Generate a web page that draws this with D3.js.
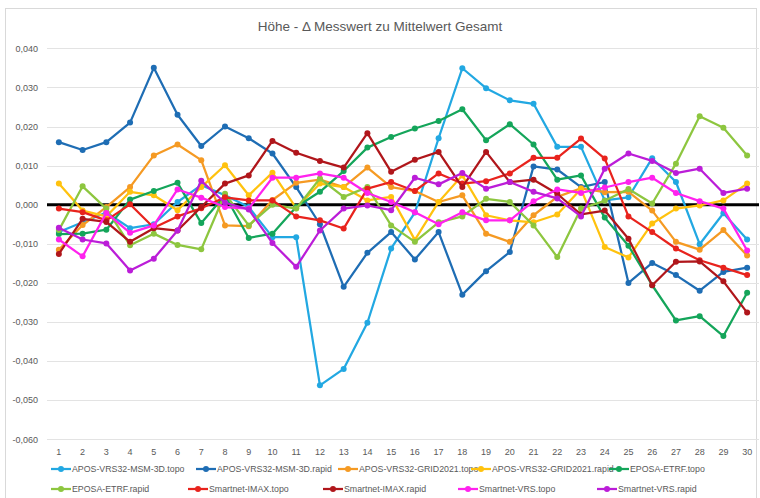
<!DOCTYPE html>
<html>
<head>
<meta charset="utf-8">
<script src="https://cdn.jsdelivr.net/npm/d3@7"></script>
<style>
  body { margin: 0; background: #fff; }
  text { font-family: "Liberation Sans", Arial, sans-serif; fill: #595959; }
</style>
</head>
<body>
<svg id="chart" width="760" height="498"></svg>
<script>
var categories = d3.range(1, 31);
var yTicks = [0.04, 0.03, 0.02, 0.01, 0, -0.01, -0.02, -0.03, -0.04, -0.05, -0.06];

var seriesNames = [
    "APOS-VRS32-MSM-3D.topo", "APOS-VRS32-MSM-3D.rapid", "APOS-VRS32-GRID2021.topo",
    "APOS-VRS32-GRID2021.rapid", "EPOSA-ETRF.topo", "EPOSA-ETRF.rapid",
    "Smartnet-IMAX.topo", "Smartnet-IMAX.rapid", "Smartnet-VRS.topo", "Smartnet-VRS.rapid"
];
var seriesColors = ["#22a8e2", "#1e6db4", "#f59a23", "#ffc20e", "#14a55a",
                    "#8dc63f", "#e8231d", "#b0161b", "#ff22ee", "#bb1dd8"];

var msmTopo = [-0.007, -0.0045, -0.002, -0.006, -0.005, 0.0007, 0.005, 0.0024, -0.0006, -0.0083,
               -0.0083, -0.0462, -0.042, -0.0302, -0.0112, -0.002, 0.017, 0.0349, 0.0298, 0.0267,
               0.0258, 0.0148, 0.0148, 0.0011, 0.0019, 0.0119, 0.0058, -0.0101, -0.0022, -0.0089];
var msmRapid = [0.016, 0.014, 0.016, 0.021, 0.035, 0.023, 0.015, 0.020, 0.017, 0.0131,
                0.0045, -0.005, -0.021, -0.0123, -0.007, -0.014, -0.007, -0.023, -0.017, -0.0121,
                0.0098, 0.009, 0.0045, 0.0058, -0.020, -0.0149, -0.018, -0.022, -0.0172, -0.0161];
var gridTopo = [-0.0115, -0.0052, -0.0006, 0.0045, 0.0126, 0.0154, 0.0114, -0.0053, -0.0055, 0.0012,
                0.0056, 0.0064, 0.0045, 0.0095, 0.0045, 0.0035, 0.0007, 0.0024, -0.0074, -0.0095,
                -0.0027, 0.002, 0.0042, 0.0032, 0.0033, -0.0015, -0.0095, -0.0115, -0.0065, -0.013];
var gridRapid = [0.0054, -0.0015, -0.003, 0.0033, 0.0024, -0.0014, 0.0045, 0.0101, 0.0024, 0.0082,
                 -0.0009, 0.0054, 0.0045, 0.0011, 0.002, -0.009, 0.0007, 0.0075, -0.0027, -0.004,
                 -0.0045, -0.0025, 0.004, -0.0108, -0.0135, -0.0048, -0.001, -0.0002, 0.0011, 0.0054];
var eposaTopo = [-0.0075, -0.0074, -0.0064, 0.0013, 0.0035, 0.0056, -0.0047, 0.0024, -0.0085, -0.0074,
                 -0.0006, 0.0033, 0.0086, 0.0146, 0.0173, 0.0195, 0.0214, 0.0244, 0.0165, 0.0206,
                 0.0154, 0.0064, 0.0075, -0.0033, -0.0105, -0.0206, -0.0296, -0.0285, -0.0336, -0.0225];
var eposaRapid = [-0.0065, 0.0047, -0.001, -0.0104, -0.0074, -0.0103, -0.0114, 0.0028, -0.0053, 0.0,
                  -0.001, 0.0067, 0.002, 0.0045, -0.0053, -0.0095, -0.0045, -0.003, 0.0015, 0.0007,
                  -0.0053, -0.0134, -0.001, 0.001, 0.004, 0.0003, 0.0105, 0.0226, 0.0197, 0.0126];
var imaxTopo = [-0.001, -0.0019, -0.004, 0.0001, -0.0059, -0.003, -0.0009, 0.0019, 0.0011, 0.0011,
                -0.003, -0.004, -0.0061, 0.0041, 0.0058, 0.0035, 0.008, 0.0054, 0.006, 0.008,
                0.012, 0.012, 0.0169, 0.0118, -0.003, -0.007, -0.0112, -0.0142, -0.0161, -0.018];
var imaxRapid = [-0.0126, -0.0036, -0.0044, -0.0095, -0.006, -0.0066, -0.0006, 0.0054, 0.0075, 0.0163,
                 0.0133, 0.0112, 0.0095, 0.0183, 0.0084, 0.0115, 0.0135, 0.0045, 0.0135, 0.0058,
                 0.0064, 0.0028, -0.0025, -0.0015, -0.0087, -0.0206, -0.0146, -0.0145, -0.0196, -0.0276];
var vrsTopo = [-0.0089, -0.0132, -0.0021, -0.0072, -0.0053, 0.0039, 0.0018, -0.0006, -0.001, 0.0069,
               0.0069, 0.008, 0.0069, 0.003, 0.0007, -0.0019, -0.005, -0.0019, -0.004, -0.004,
               0.0009, 0.0039, 0.003, 0.0044, 0.0058, 0.0069, 0.003, 0.0009, -0.001, -0.0117];
var vrsRapid = [-0.0059, -0.0089, -0.0099, -0.0168, -0.0138, -0.0066, 0.0061, 0.0005, -0.0012, -0.0098,
                -0.0159, -0.0066, -0.001, -0.0002, -0.0014, 0.0069, 0.0052, 0.0081, 0.0041, 0.0058,
                0.0033, 0.0016, -0.003, 0.0092, 0.0131, 0.0112, 0.0081, 0.0092, 0.003, 0.0041];

var seriesValues = [msmTopo, msmRapid, gridTopo, gridRapid, eposaTopo,
                    eposaRapid, imaxTopo, imaxRapid, vrsTopo, vrsRapid];

var svg = d3.select("#chart");
var locale = d3.formatLocale({decimal: ",", thousands: ".", grouping: [3], currency: ["", "€"], minus: "-"});
var fmt = locale.format(".3f");

// chart frame
svg.append('rect')
    .attr('x', 5.5).attr('y', 8.5)
    .attr('width', 751).attr('height', 500)
    .attr('fill', "#fff")
    .attr('stroke', "#d9d9d9");

svg.append('text')
    .attr('x', 380).attr('y', 31)
    .attr('text-anchor', "middle")
    .style('font-size', "13.5px")
    .text("Höhe - Δ Messwert zu Mittelwert Gesamt");

var x = d3.scalePoint().domain(categories).range([47, 759]).padding(0.5);
var y = d3.scaleLinear().domain([-0.06, 0.04]).range([439.3, 48.3]);

// gridlines
svg.append('g').selectAll('line').data(yTicks).enter().append('line')
    .attr('x1', 47).attr('x2', 759)
    .attr('y1', function(d) { return Math.round(y(d)) + 0.5; })
    .attr('y2', function(d) { return Math.round(y(d)) + 0.5; })
    .attr('stroke', "#e3e3e3")
    .attr('stroke-width', 1);

svg.append('g').selectAll('text').data(yTicks).enter().append('text')
    .attr('x', 38)
    .attr('y', function(d) { return y(d) + 3.2; })
    .attr('text-anchor', "end")
    .style('font-size', "9px")
    .text(function(d) { return fmt(d); });

svg.append('g').selectAll('text').data(categories).enter().append('text')
    .attr('x', function(d) { return x(d); })
    .attr('y', 455)
    .attr('text-anchor', "middle")
    .style('font-size', "9px")
    .text(function(d) { return d; });

// zero line
svg.append('line')
    .attr('x1', 47).attr('x2', 759)
    .attr('y1', y(0)).attr('y2', y(0))
    .attr('stroke', "#000")
    .attr('stroke-width', 3);

var line = d3.line()
    .x(function(d, i) { return x(categories[i]); })
    .y(function(d) { return y(d); });

seriesValues.forEach(function(values, k) {
    var g = svg.append('g');
    g.append('path')
        .attr('d', line(values))
        .attr('fill', "none")
        .attr('stroke', seriesColors[k])
        .attr('stroke-width', 2.25)
        .attr('stroke-linejoin', "round");
    g.selectAll('circle').data(values).enter().append('circle')
        .attr('cx', function(d, i) { return x(categories[i]); })
        .attr('cy', function(d) { return y(d); })
        .attr('r', 3)
        .attr('fill', seriesColors[k]);
});

// legend, two rows of five
var legendCols = [[51, 196, 338, 471, 609], [51, 188, 323, 458, 597]];
var legendRows = [469, 489];
seriesNames.forEach(function(name, k) {
    var row = Math.floor(k / 5), col = k % 5;
    var lx = legendCols[row][col], ly = legendRows[row];
    var g = svg.append('g').attr('transform', "translate(" + lx + "," + ly + ")");
    g.append('line')
        .attr('x1', 0).attr('x2', 20).attr('y1', 0).attr('y2', 0)
        .attr('stroke', seriesColors[k]).attr('stroke-width', 2.25);
    g.append('circle').attr('cx', 10).attr('cy', 0).attr('r', 3).attr('fill', seriesColors[k]);
    g.append('text')
        .attr('x', 21).attr('y', 3.2)
        .style('font-size', "8.8px")
        .text(name);
});
</script>
</body>
</html>
